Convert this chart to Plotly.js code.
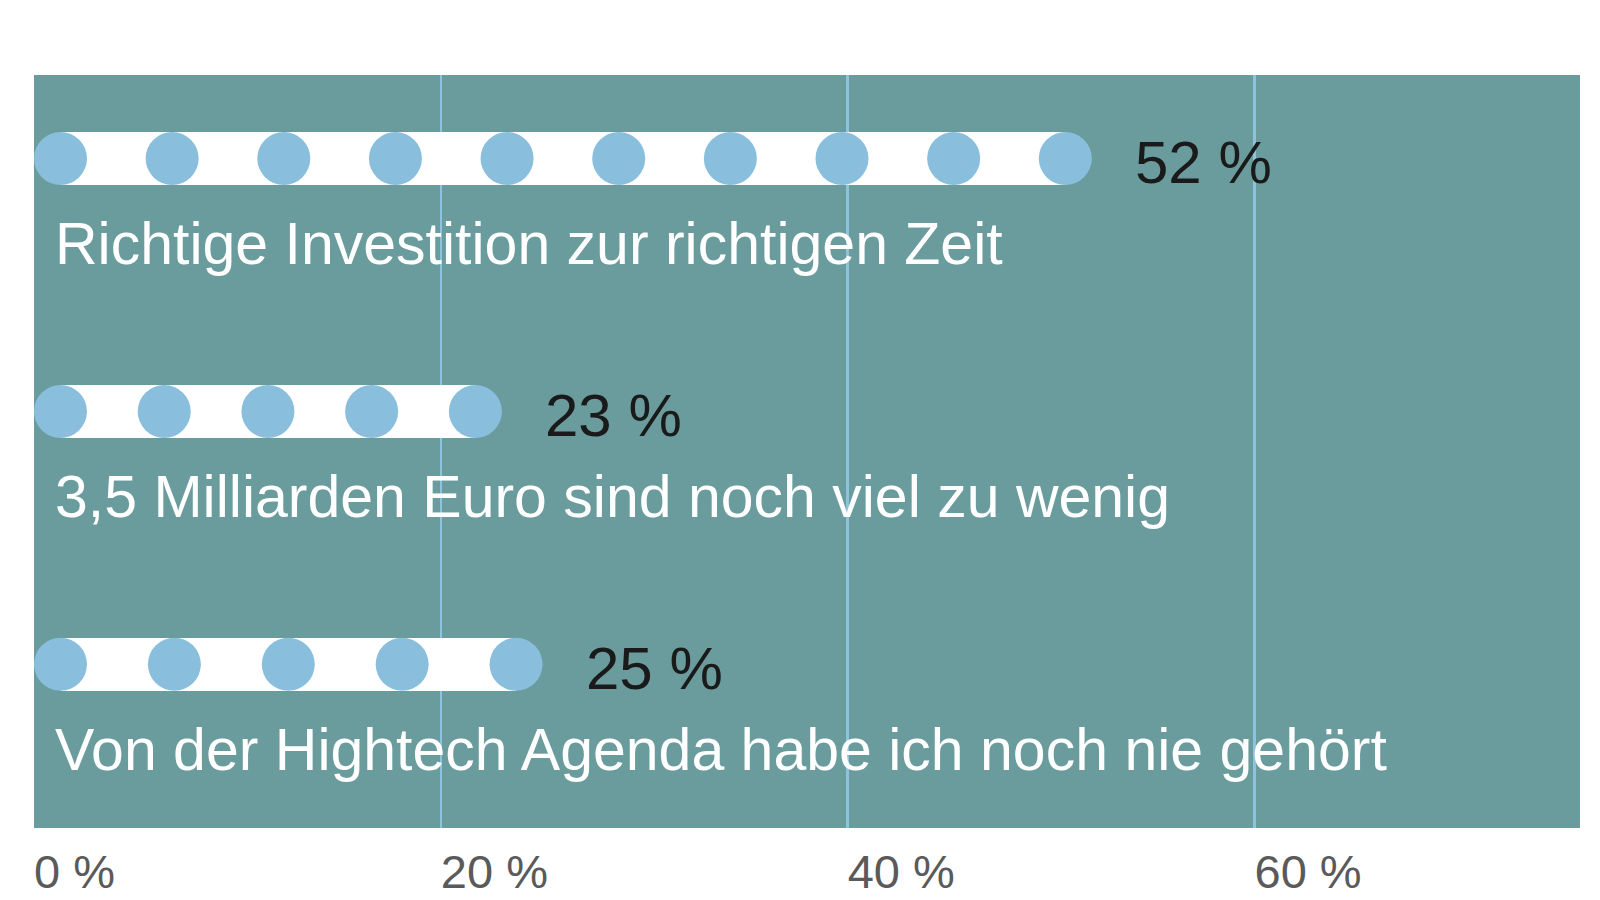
<!DOCTYPE html>
<html>
<head>
<meta charset="utf-8">
<script src="https://cdn.plot.ly/plotly-3.0.1.min.js"></script>
<style>html,body{margin:0;padding:0;background:#fff;}#chart{width:1600px;height:900px;}</style>
</head>
<body>
<div id="chart"></div>
<script>
const categories = [
  "Richtige Investition zur richtigen Zeit",
  "3,5 Milliarden Euro sind noch viel zu wenig",
  "Von der Hightech Agenda habe ich noch nie gehört"
];
const values = [52, 23, 25];
const dots = [10, 5, 5];
const valueLabels = ["52 %", "23 %", "25 %"];
const tickVals = [0, 20, 40, 60];
const tickText = ["0 %", "20 %", "40 %", "60 %"];

const FONT = "Liberation Sans Narrow, Arial Narrow, sans-serif";
const xMax = 76;
const plotW = 1546;
const pxPerUnit = plotW / xMax;
const dotPx = 53;
const r = (dotPx / 2) / pxPerUnit;
const yPos = categories.map((c, i) => i);

const traces = [];
traces.push({
  type: "bar", orientation: "h",
  y: yPos,
  x: values.map(v => v - 2 * r),
  base: values.map(() => r),
  width: 0.21,
  marker: {color: "#ffffff", line: {width: 0}},
  hoverinfo: "skip", showlegend: false
});
const dx = [], dy = [];
values.forEach((v, i) => {
  const n = dots[i];
  for (let k = 0; k < n; k++) {
    dx.push(r + (v - 2 * r) * k / (n - 1));
    dy.push(yPos[i]);
  }
});
traces.push({
  type: "scatter", mode: "markers", x: dx, y: dy,
  marker: {size: dotPx, color: "#89bfdc", line: {width: 0}},
  hoverinfo: "skip", showlegend: false
});

const annotations = [];
values.forEach((v, i) => {
  annotations.push({
    x: v, y: yPos[i], xref: "x", yref: "y",
    text: valueLabels[i], showarrow: false,
    xanchor: "left", yanchor: "middle", xshift: 41, yshift: -4,
    font: {family: FONT, size: 60, color: "#1a1a1a"}
  });
  annotations.push({
    x: 0, y: yPos[i] + 0.34, xref: "x", yref: "y",
    text: categories[i], showarrow: false,
    xanchor: "left", yanchor: "middle", xshift: 19,
    font: {family: FONT, size: 59, color: "#ffffff"}
  });
});

const layout = {
  width: 1600, height: 900,
  margin: {l: 34, r: 20, t: 75, b: 72},
  paper_bgcolor: "#ffffff",
  plot_bgcolor: "#6a9c9d",
  showlegend: false,
  bargap: 0,
  xaxis: {
    range: [0, xMax], tickvals: tickVals, ticktext: tickText,
    ticklabelposition: "outside right",
    ticklabelstandoff: 12,
    showgrid: true, gridcolor: "#8cc3df", gridwidth: 2.5,
    zeroline: false, showline: false, ticks: "",
    tickfont: {family: FONT, size: 47, color: "#5a5a5a"},
    fixedrange: true
  },
  yaxis: {
    range: [2.647, -0.33], showgrid: false, zeroline: false,
    showticklabels: false, ticks: "", fixedrange: true
  },
  annotations: annotations
};
Plotly.newPlot("chart", traces, layout, {displayModeBar: false, staticPlot: true});
</script>
</body>
</html>
